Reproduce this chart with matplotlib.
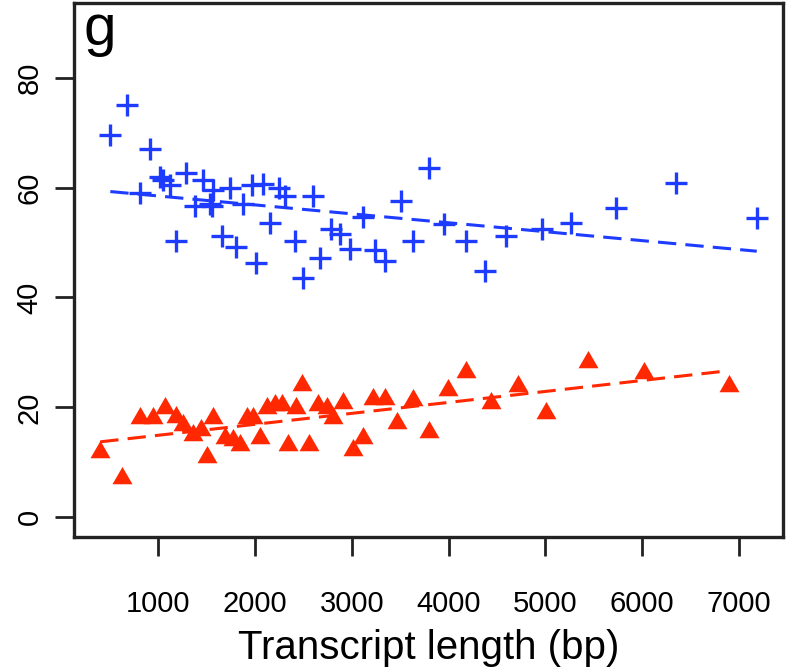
import numpy as np
import matplotlib
matplotlib.use("Agg")
import matplotlib.pyplot as plt

# transcript length (bp) and score, upper (+) group
blue_len = [504, 680, 814, 917, 1021, 1052, 1124, 1186, 1290, 1383, 1466, 1538,
            1569, 1559, 1662, 1745, 1807, 1880, 1973, 2014, 2087, 2159, 2252,
            2314, 2418, 2500, 2604, 2676, 2780, 2883, 2986, 3111, 3245, 3348,
            3504, 3628, 3794, 3949, 4176, 4373, 4590, 4962, 5262, 5728, 6348, 7186]
blue_val = [69.5, 75.1, 59.1, 67.1, 62.0, 61.3, 60.4, 50.2, 62.7, 56.7, 61.3, 57.1,
            59.5, 56.7, 51.1, 60.0, 49.1, 57.1, 60.4, 46.2, 60.7, 53.6, 60.0,
            58.5, 50.2, 43.6, 58.5, 47.1, 52.5, 51.6, 48.9, 54.7, 48.7, 46.7,
            57.6, 50.2, 63.5, 53.3, 50.2, 44.9, 51.1, 52.4, 53.6, 56.2, 60.9, 54.4]

# lower (triangle) group
red_len = [400, 628, 814, 949, 1073, 1186, 1259, 1362, 1445, 1507, 1569, 1693,
           1776, 1848, 1921, 1983, 2055, 2128, 2211, 2283, 2428, 2490, 2345,
           2562, 2655, 2748, 2810, 2914, 3017, 3121, 3224, 3348, 3472, 3628,
           3794, 3990, 4176, 4435, 4714, 5004, 5438, 6017, 6896]
red_val = [11.8, 7.1, 18.0, 18.0, 19.8, 18.2, 16.7, 14.9, 15.8, 10.9, 18.0, 14.4,
           14.0, 13.1, 18.0, 18.0, 14.5, 19.8, 20.4, 20.4, 19.8, 24.0, 13.1,
           13.1, 20.4, 19.8, 18.0, 20.7, 12.2, 14.5, 21.6, 21.6, 17.1, 21.3,
           15.5, 23.1, 26.4, 20.7, 23.8, 18.9, 28.2, 26.2, 23.8]

x_ticks = [1000, 2000, 3000, 4000, 5000, 6000, 7000]
y_ticks = [0, 20, 40, 60, 80]

BLUE = "#1E3CFF"
RED = "#FF2800"

plt.rcParams["font.family"] = ["Liberation Sans", "DejaVu Sans"]

fig = plt.figure(figsize=(8.01, 6.67), dpi=100)
ax = fig.add_axes([74 / 801, 1 - 537 / 667, (783 - 74) / 801, (537 - 3) / 667])

ax.scatter(blue_len, blue_val, marker="+", s=270, linewidths=2.4, color=BLUE, zorder=3)
ax.scatter(red_len, red_val, marker=(3, 0, 0), s=276, linewidths=0, color=RED, zorder=3)

# least-squares trend lines
for xs, ys, col in [(blue_len, blue_val, BLUE), (red_len, red_val, RED)]:
    k, b = np.polyfit(xs, ys, 1)
    xx = np.array([min(xs), max(xs)])
    ax.plot(xx, k * xx + b, color=col, lw=2.2, dashes=(6, 3), zorder=2)

all_x = blue_len + red_len
span = max(all_x) - min(all_x)
ax.set_xlim(min(all_x) - 0.04 * span, max(all_x) + 0.04 * span)
ax.set_ylim(-3.6, 93.6)

ax.set_xticks(x_ticks)
ax.set_yticks(y_ticks)
ax.tick_params(axis="both", direction="out", length=14, width=2, labelsize=21, color="#222222")
ax.tick_params(axis="x", pad=24)
ax.tick_params(axis="y", pad=8, labelrotation=90)
for lab in ax.get_yticklabels():
    lab.set_va("center")

for sp in ax.spines.values():
    sp.set_linewidth(2.4)
    sp.set_color("#222222")

ax.set_xlabel("Transcript length (bp)", fontsize=29, labelpad=8)

fig.text(83 / 801, 1 - 45 / 667, "g", fontsize=42, ha="left", va="baseline")

fig.savefig("out.png", dpi=100)
